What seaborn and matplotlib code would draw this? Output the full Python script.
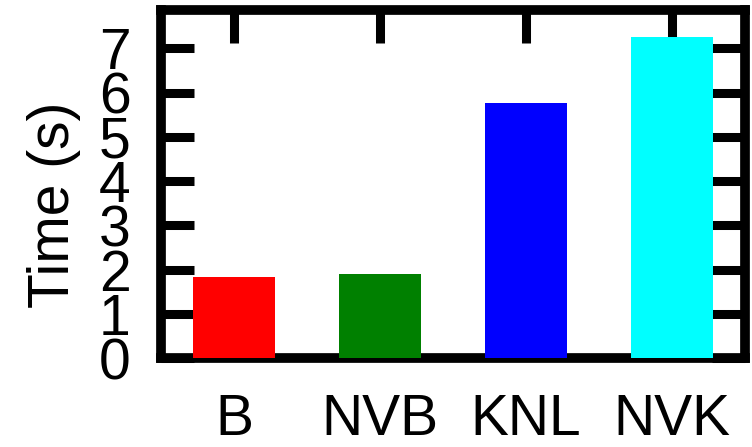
import matplotlib
matplotlib.use("Agg")
import matplotlib.pyplot as plt
import seaborn as sns
import pandas as pd

# Runtime per platform
platforms = ["B", "NVB", "KNL", "NVK"]
times = [1.84, 1.90, 5.76, 7.25]
bar_colors = ["#ff0000", "#008000", "#0000ff", "#00ffff"]
y_ticks = [0, 1, 2, 3, 4, 5, 6, 7]

sns.set_theme(style="white")
plt.rcParams["font.family"] = ["Liberation Sans", "DejaVu Sans"]
plt.rcParams.update({
    "text.color": "black",
    "axes.labelcolor": "black",
    "xtick.color": "black",
    "ytick.color": "black",
})

df = pd.DataFrame({"platform": platforms, "time": times})

fig = plt.figure(figsize=(7.52, 4.47), dpi=100)
ax = fig.add_axes([0.2141, 0.1991, 0.9907 - 0.2141, 0.9776 - 0.1991])

sns.barplot(data=df, x="platform", y="time", hue="platform",
            palette=bar_colors, order=platforms, hue_order=platforms,
            width=0.556, legend=False, saturation=1, ax=ax, zorder=3,
            edgecolor="none", linewidth=0)

ax.set_axisbelow(True)
ax.set_xlim(-0.5, 3.5)
ax.set_ylim(0, 7.87)
ax.set_yticks(y_ticks)

for side in ["left", "right", "top", "bottom"]:
    ax.spines[side].set_visible(True)
    ax.spines[side].set_linewidth(7.0)
    ax.spines[side].set_color("black")

fs = 41
ax.tick_params(axis="y", which="major", direction="in", length=24, width=6.5,
               left=True, right=True, labelleft=True, labelright=False,
               labelsize=fs, pad=22, color="black", labelcolor="black")
ax.tick_params(axis="x", which="major", direction="in", length=24, width=6.5,
               top=True, bottom=False, labelbottom=True, labeltop=False,
               labelsize=fs, pad=25, color="black", labelcolor="black")

ax.set_xlabel("")
ax.set_ylabel("Time (s)", fontsize=fs, va="center", color="black")
ax.yaxis.set_label_coords(-0.183, 0.44)

fig.savefig("out.png", dpi=100)
